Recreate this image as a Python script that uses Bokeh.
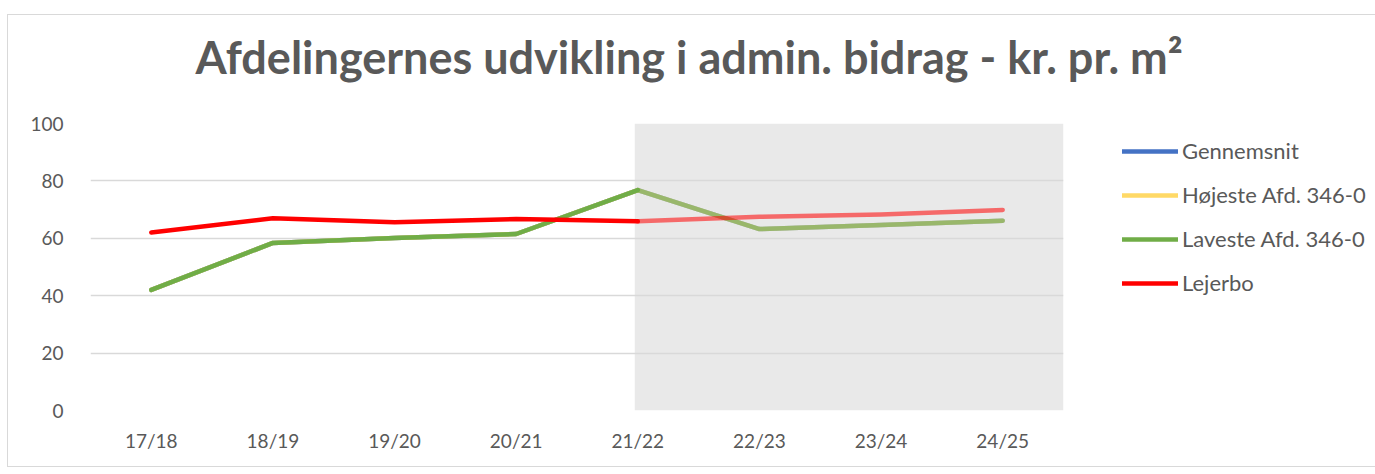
from bokeh.plotting import figure
from bokeh.models import (FactorRange, Range1d, FixedTicker, Legend, LegendItem,
                          BoxAnnotation, Title)
from bokeh.embed import file_html
from bokeh.resources import INLINE

# ---- data ----
years = ["17/18", "18/19", "19/20", "20/21", "21/22", "22/23", "23/24", "24/25"]
gennemsnit = [42.0, 58.4, 60.1, 61.5, 76.8, 63.2, 64.6, 66.1]
hojeste = [42.0, 58.4, 60.1, 61.5, 76.8, 63.2, 64.6, 66.1]
laveste = [42.0, 58.4, 60.1, 61.5, 76.8, 63.2, 64.6, 66.1]
lejerbo = [62.0, 67.0, 65.6, 66.7, 65.9, 67.5, 68.3, 69.9]
forecast_start = "21/22"   # shaded (budget) period starts here
y_ticks = [0, 20, 40, 60, 80, 100]

series = [
    ("Gennemsnit", gennemsnit, "#4472C4"),
    ("Højeste Afd. 346-0", hojeste, "#FFD966"),
    ("Laveste Afd. 346-0", laveste, "#70AD47"),
    ("Lejerbo", lejerbo, "#FF0000"),
]

FONT = "Lato"
TXT = "#595959"
GRID = "#D9D9D9"

p = figure(x_range=FactorRange(*years, range_padding=0), y_range=Range1d(0, 100),
           frame_width=973, frame_height=287, output_backend="svg", toolbar_location=None,
           min_border_left=82, min_border_right=0, min_border_top=108, min_border_bottom=56,
           outline_line_color=None, background_fill_color="white", border_fill_color="white")
p.styles = {"border": "1px solid #D9D9D9", "margin-top": "14px", "margin-left": "7px"}

# forecast shading
k = years.index(forecast_start)
shade = BoxAnnotation(left=k + 0.475, right=len(years), bottom=0, top=100,
                      fill_color="#E9E9E9", fill_alpha=1.0, line_color=None, level="image")
p.add_layout(shade)

# axes & grid
p.yaxis.ticker = FixedTicker(ticks=y_ticks)
p.ygrid.grid_line_color = GRID
p.ygrid.grid_line_width = 1.5
p.xgrid.grid_line_color = None
for ax in (p.xaxis, p.yaxis):
    ax.axis_line_color = None
    ax.major_tick_line_color = None
    ax.minor_tick_line_color = None
    ax.major_label_text_font = FONT
    ax.major_label_text_font_size = "19px"
    ax.major_label_text_color = TXT
p.xaxis.major_label_standoff = 12
p.yaxis.major_label_standoff = 21

items = []
for name, vals, col in series:
    solid_x = years[:k + 1]
    solid_y = vals[:k + 1]
    fade_x = years[k:]
    fade_y = vals[k:]
    r = p.line(solid_x, solid_y, line_color=col, line_width=4.5, line_cap="round", line_join="round")
    p.line(fade_x, fade_y, line_color=col, line_alpha=0.55, line_width=4.5,
           line_cap="round", line_join="round")
    items.append(LegendItem(label=name, renderers=[r]))

legend = Legend(items=items, location=(59, 114), orientation="vertical",
                glyph_width=56, glyph_height=20, label_height=20, spacing=17,
                label_standoff=4, padding=0, margin=0,
                label_text_font=FONT, label_text_font_size="22px", label_text_color=TXT,
                border_line_color=None, background_fill_alpha=0)
p.add_layout(legend, "right")

# spacer between plot area and title (first "above" item sits nearest the frame)
spacer = Title(text=".", text_font_size="1px", text_color="white", standoff=30)
p.add_layout(spacer, "above")

title = Title(text="Afdelingernes udvikling i admin. bidrag - kr. pr. m²", align="left",
              vertical_align="top", offset=105, standoff=10,
              text_font=FONT, text_font_style="bold", text_font_size="45px",
              text_color=TXT)
p.add_layout(title, "above")

open("out.html", "w").write(file_html(p, INLINE))
